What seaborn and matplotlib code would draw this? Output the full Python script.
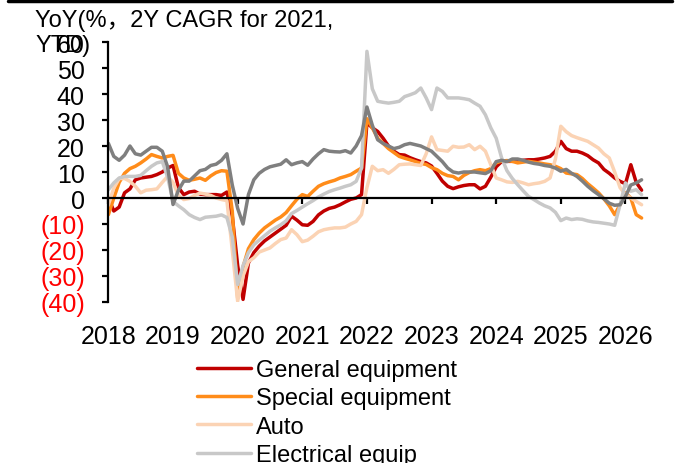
import numpy as np
import pandas as pd
import matplotlib
matplotlib.use("Agg")
import matplotlib.pyplot as plt
import seaborn as sns

# monthly series, Jan 2018 onwards (YoY %)
general_equipment = [
    0, -5, -3.5, 2, 3.5, 7, 7.7, 8, 8.3, 9, 10, 11.5,
    12.5, 4, 1.3, 2.3, 2.6, 1.5, 1.3, 1.3, 1.3, 1.0, 2.3, -7,
    -26, -39, -25, -21, -18.5, -16.5, -15, -13.5, -12, -10.5, -7, -8.5,
    -10.3, -10.5, -9, -6.5, -5, -4, -3.5, -2.6, -1.5, -0.5, 0, 1.3,
    29, 27, 25.6, 23, 20, 18, 16.7, 16.5, 15.5, 14.7, 14, 13.5,
    12.3, 9.5, 6.5, 4.5, 3.6, 4.3, 4.8, 5.1, 5.1, 3.5, 4.5, 8,
    12, 14, 14.1, 14.1, 14.2, 14.5, 14.7, 14.7, 15, 15.4, 16, 18,
    21.8, 19, 18, 18, 17.3, 16.3, 14.7, 13.5, 11, 9.5, 7.7, 6.4,
    5.5, 12.8, 6, 3,
]
special_equipment = [
    -6.4, 0, 6, 9.5, 11.3, 12.2, 13.5, 15, 16.7, 16, 15.4, 16,
    16.4, 9.5, 7.7, 6.8, 7.2, 7.7, 6.8, 8.5, 9.8, 10.5, 10.3, -5,
    -38.5, -26.5, -19.5, -16, -13.5, -11.5, -10, -8.5, -7.3, -5.6, -3, -0.5,
    1.3, 0.6, 2.6, 4.5, 5.5, 6.2, 6.8, 7.7, 8.3, 9, 10.3, 11.5,
    30.5, 27, 23, 21, 19, 17.5, 16, 15.3, 14.7, 14, 13.3, 12.9,
    11.7, 10.9, 9.5, 8.6, 8.3, 7, 8.7, 9.8, 10.5, 10.9, 10.5, 11.3,
    13.5, 14.2, 14.4, 14.1, 13.5, 13.8, 14.1, 13.8, 13.5, 13.1, 12.8, 12.2,
    11.3, 9.6, 9.3, 9, 7.5, 5.5, 3.8, 2, -0.3, -3, -6.4, -2.6,
    2, 0, -6.4, -7.7,
]
auto = [
    -2.6, 3.8, 7.5, 7.5, 6.4, 4.5, 2, 3, 3.2, 3.5, 6, 8.3,
    6, 1, -0.6, -0.2, 1, 1.9, 1.5, 1, 0, -0.6, -1, -20,
    -39.7, -30, -24.5, -23, -20.8, -20, -19.2, -17.5, -16, -15.4, -12.2, -14.1,
    -16.8, -16.2, -14.7, -13, -12.2, -11.8, -11.5, -11.5, -11.2, -10, -9, -6.4,
    4, 12.2, 10.5, 10.9, 9.5, 11, 12.8, 13, 13.1, 12.8, 12.5, 17,
    23.5, 18.6, 18.3, 18, 19.9, 19.5, 19.6, 20.5, 18.6, 19.9, 18, 12.8,
    7.7, 7, 6.2, 6, 6.4, 5.8, 5.1, 5.5, 5.8, 6.4, 7.7, 15,
    27.6, 25.5, 24, 23.2, 22.5, 21.8, 20.5, 19.2, 17, 15.4, 10, 4,
    1.3, 0, -1.3, -2.6,
]
electrical_equip = [
    3.2, 5.8, 7.7, 8.3, 8.3, 8.3, 8.7, 10.5, 12.2, 13.5, 14, 8,
    -1.3, -3, -4.5, -6.4, -7.5, -8.3, -7.4, -7.2, -7, -6.5, -7.5, -15,
    -33.3, -26, -21, -18, -16.2, -14.5, -12.8, -11.5, -10.3, -8.8, -6, -4.8,
    -3.5, -2.2, -1, 0.4, 1.5, 2.5, 3.2, 3.8, 4.5, 5.1, 6.4, 11.5,
    56.4, 42, 37.2, 36.8, 36.5, 36.8, 37.2, 39, 39.7, 40.5, 42.3, 38.5,
    34, 42.3, 41, 38.5, 38.5, 38.5, 38.2, 37.8, 36.5, 35.3, 32, 27,
    23, 15.5, 10.5, 7.5, 5.1, 2.8, 0.6, -0.6, -1.9, -3, -3.8, -5.5,
    -8.7, -7.7, -8.3, -8, -8.2, -8.8, -9.2, -9.4, -9.7, -10, -10.5, -2.6,
    5.8, 2.6, 3.2, 1.3,
]
manufacturing = [
    21, 16, 14.5, 16.5, 20, 17, 16.5, 18, 19.5, 19.5, 18, 12,
    -2.5, 3, 6.5, 6.5, 8.5, 10.5, 11, 12.5, 13, 14.5, 17, 5,
    -4, -10, 1.3, 7, 9.5, 11, 12, 12.5, 13, 14.7, 12.8, 13.5,
    14, 12.6, 15, 17, 18.6, 18, 17.8, 17.7, 18.2, 17.3, 20, 24,
    35, 28, 22.4, 21, 20, 19, 19.5, 20.5, 21, 20.5, 20, 19,
    18, 16, 14, 11.5, 10, 9.6, 10, 10, 10, 9.7, 9.4, 10.5,
    14, 14.5, 14, 15, 15, 14.5, 13.8, 13.3, 13, 12.5, 12.2, 11.5,
    10.3, 11, 9.5, 8.3, 6.5, 4.5, 2.8, 1.3, -0.3, -2, -2.8, -2.6,
    0.6, 5, 5.8, 7,
]

series_names = ["General equipment", "Special equipment", "Auto",
                "Electrical equip", "Manufacturing"]
series_colors = ["#C00000", "#FF8C1A", "#FBD3B4", "#C8C8C8", "#7F7F7F"]
year_labels = ["2018", "2019", "2020", "2021", "2022", "2023", "2024", "2025", "2026"]
y_ticks = [-40, -30, -20, -10, 0, 10, 20, 30, 40, 50, 60]

all_values = [general_equipment, special_equipment, auto, electrical_equip, manufacturing]
frames = []
for name, vals in zip(series_names, all_values):
    frames.append(pd.DataFrame({"month": np.arange(len(vals)), "value": vals, "series": name}))
df = pd.concat(frames, ignore_index=True)

sns.set_style("ticks")
plt.rcParams["font.family"] = ["Liberation Sans", "Noto Sans CJK SC", "DejaVu Sans"]
# plain black text and axes like the Excel original
plt.rcParams.update({"text.color": "black", "axes.edgecolor": "black",
                     "xtick.color": "black", "ytick.color": "black",
                     "axes.labelcolor": "black"})

fig = plt.figure(figsize=(6.75, 4.64), dpi=100)
ax = fig.add_axes([0.1606, 0.347, 0.7979, 0.5603])

sns.lineplot(data=df, x="month", y="value", hue="series", hue_order=series_names,
             palette=dict(zip(series_names, series_colors)), linewidth=2.5, ax=ax)

ax.set_xlim(0, 100)
ax.set_ylim(-40, 60)
ax.set_xlabel("")
ax.set_ylabel("")

# x axis sits on the zero line
ax.spines["top"].set_visible(False)
ax.spines["right"].set_visible(False)
ax.spines["bottom"].set_position(("data", 0))
ax.spines["bottom"].set_linewidth(1.6)
ax.spines["left"].set_linewidth(1.6)

ax.set_xticks(np.arange(0, 12 * len(year_labels), 12))
ax.set_xticklabels(year_labels)
ax.set_yticks(y_ticks)
ax.set_yticklabels([f"({abs(v)})" if v < 0 else str(v) for v in y_ticks])
for lab, v in zip(ax.get_yticklabels(), y_ticks):
    if v < 0:
        lab.set_color("#FF0000")

ax.tick_params(axis="x", direction="out", length=4, width=1.6, labelsize=18, pad=87)
ax.tick_params(axis="y", direction="out", length=4, width=1.6, labelsize=18, pad=13)

fig.text(35 / 675, 1 - 10 / 464, "YoY(%，2Y CAGR for 2021,\nYTD)", ha="left", va="top",
         fontsize=17, linespacing=1.2)

ax.legend(loc="upper left", bbox_to_anchor=(197 / 675, 1 - 360 / 464),
          bbox_transform=fig.transFigure, frameon=False, fontsize=17,
          handlelength=2.3, handletextpad=0.2, labelspacing=0.27,
          borderpad=0, borderaxespad=0)

# border line at the top of the page
fig.add_artist(plt.Line2D([0.012, 0.995], [0.996, 0.996], color="black", lw=2.5))

fig.savefig("out.png", dpi=100)
